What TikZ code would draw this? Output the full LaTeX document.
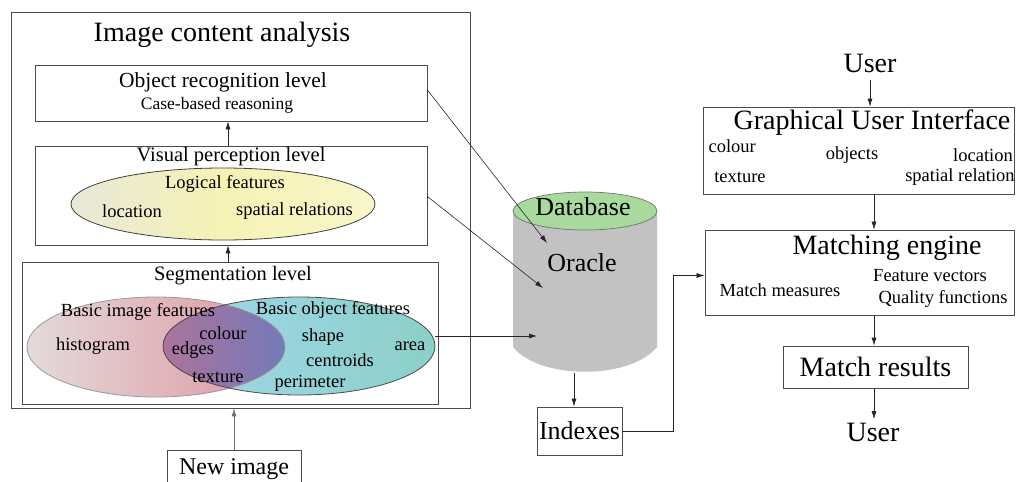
\documentclass[tikz,border=0pt]{standalone}
\usepackage{fontspec}
\setmainfont{Liberation Serif}
\usepackage{tikz}
\usetikzlibrary{positioning}
\usetikzlibrary{shapes,arrows.meta,calc}

\definecolor{dbgreen}{RGB}{168,218,158}
\definecolor{dbgray}{RGB}{194,194,194}
\definecolor{featpale}{RGB}{232,232,218}
\definecolor{featyellow}{RGB}{246,242,180}
\definecolor{featgrey}{RGB}{228,218,218}
\definecolor{featred}{RGB}{222,148,160}
\definecolor{featblue}{RGB}{160,215,235}
\definecolor{featteal}{RGB}{140,208,200}
\definecolor{featmauve}{RGB}{172,115,155}
\definecolor{featpurple}{RGB}{115,122,185}

\tikzset{
  box/.style={draw=black!70, line width=0.8pt, rectangle, inner sep=0pt},
  feat/.style={draw=black!65, line width=0.8pt, ellipse, inner sep=0pt},
  big/.style={font=\fontsize{28}{30}\selectfont},
  mid/.style={font=\fontsize{20.5}{22}\selectfont},
  sml/.style={font=\fontsize{18.5}{20}\selectfont},
  link/.style={-{Latex[length=8pt,width=5pt]}, draw=black!85, line width=0.6pt},
}

\begin{document}
\begin{tikzpicture}[x=1pt, y=-1pt, node distance=2cm]
  \useasboundingbox (0,0) rectangle (1018,482);
  \clip (0,0) rectangle (1018,482);

  % Image content analysis
  \node [box, minimum width=459pt, minimum height=396pt] (analysis) at (240.5,210) {};
  \node [big] (analysistitle) at (222,35) {Image content analysis};

  \node [box, minimum width=392pt, minimum height=56pt] (objlevel) at (231,93) {};
  \node [font=\fontsize{21.5}{23}\selectfont] (objtitle) at (223,82) {Object recognition level};
  \node [font=\fontsize{17.5}{19}\selectfont] (cbr) at (217,105) {Case-based reasoning};

  \node [box, minimum width=392pt, minimum height=99pt] (vislevel) at (231,195.5) {};
  \node [mid] (vistitle) at (231,157) {Visual perception level};
  \node [feat, draw=black!75, left color=featpale, right color=featyellow!70, middle color=featyellow,
         minimum width=304pt, minimum height=72pt] (logical) at (223,204) {};
  \node [sml] at (225,184) {Logical features};
  \node [sml] at (132,211) {location};
  \node [sml] at (294.5,211) {spatial relations};

  \node [box, minimum width=416pt, minimum height=142pt] (seglevel) at (230,333) {};
  \node [mid] (segtitle) at (233,276) {Segmentation level};
  \node [feat, draw=none, left color=featgrey, right color=featred,
         minimum width=258pt, minimum height=100pt] (imgfeat) at (156,347) {};
  \node [feat, draw=none, left color=featblue, right color=featteal,
         minimum width=272pt, minimum height=98pt] (objfeat) at (299,346) {};
  \begin{scope}
    \clip (156,347) ellipse [x radius=129pt, y radius=50pt];
    \clip (299,346) ellipse [x radius=136pt, y radius=49pt];
    \fill [left color=featmauve, right color=featpurple] (163,296) rectangle (285,397);
  \end{scope}
  \draw [black!40, line width=0.8pt] (156,347) ellipse [x radius=129pt, y radius=50pt];
  \draw [black!70, line width=0.8pt] (299,346) ellipse [x radius=136pt, y radius=49pt];
  \node [sml] at (138,312) {Basic image features};
  \node [sml] at (333,310) {Basic object features};
  \node [sml] at (93,346) {histogram};
  \node [sml] at (223,333) {colour};
  \node [sml] at (193,350) {edges};
  \node [sml] at (218,377) {texture};
  \node [sml] at (323,337) {shape};
  \node [sml] at (410,346) {area};
  \node [sml] at (340,360) {centroids};
  \node [sml] at (310,383) {perimeter};

  \node [box, font=\fontsize{24}{26}\selectfont, minimum width=134pt, minimum height=38pt] (newimg) at (234,469) {New image};

  % Database
  \fill [dbgray] (513,211) -- (513,347) .. controls (540,380) and (630,380) .. (657,347) -- (657,211) -- cycle;
  \filldraw [fill=dbgreen, draw=black!55, line width=0.7pt] (585,211) ellipse [x radius=72pt, y radius=19pt];
  \node [font=\fontsize{26}{28}\selectfont] (dbname) at (583,207) {Database};
  \node [font=\fontsize{26}{28}\selectfont] (oracle) at (582,263) {Oracle};
  \coordinate (dbinA) at (547,243);
  \coordinate (dbinB) at (543,288);
  \coordinate (dbinC) at (537,336);
  \coordinate (dbout) at (574,373);

  \node [box, font=\fontsize{26}{28}\selectfont, minimum width=85pt, minimum height=48pt] (indexes) at (579.5,431) {Indexes};

  % Retrieval side
  \node [big] (usertop) at (870,63) {User};
  \node [box, minimum width=311pt, minimum height=87pt] (gui) at (858.5,150.5) {};
  \node [big] at (872,123) {Graphical User Interface};
  \node [sml, anchor=west] at (705,146) {colour};
  \node [sml] at (852,155) {objects};
  \node [sml] at (983,155) {location};
  \node [sml] at (740,177) {texture};
  \node [sml] at (960,177) {spatial relation};

  \node [box, minimum width=309pt, minimum height=85pt] (matching) at (859.5,272.5) {};
  \node [big] at (887,248) {Matching engine};
  \node [sml] at (930,276) {Feature vectors};
  \node [sml] at (780,290) {Match measures};
  \node [sml] at (943,299) {Quality functions};

  \node [box, big, minimum width=185pt, minimum height=42pt] (results) at (875.5,367) {Match results};
  \node [big] (userbot) at (873,432) {User};

  % Arrows
  \draw [link] (vislevel.north -| 228,0) -- (objlevel.south -| 228,0);
  \draw [link] (seglevel.north -| 228,0) -- (vislevel.south -| 228,0);
  \draw [link, draw=black!55] (newimg.north) -- (newimg.north |- analysis.south);
  \draw [link] ([yshift=3pt]objlevel.east) -- (dbinA);
  \draw [link] ([yshift=-1pt]vislevel.east) -- (dbinB);
  \draw [link] (dbinC -| objfeat.east) -- (dbinC);
  \draw [link] (dbout) -- (dbout |- indexes.north);
  \draw [link] (indexes.east) -- ++(51,0) |- ([yshift=-3pt]matching.west);
  \draw [link] ([yshift=-4pt]usertop.south -| 870,0) -- (gui.north -| 870,0);
  \draw [link] (gui.south -| 874,0) -- (matching.north -| 874,0);
  \draw [link] (matching.south -| 874,0) -- (results.north -| 874,0);
  \draw [link] (results.south -| 874,0) -- (userbot.north -| 874,0);
\end{tikzpicture}
\end{document}
